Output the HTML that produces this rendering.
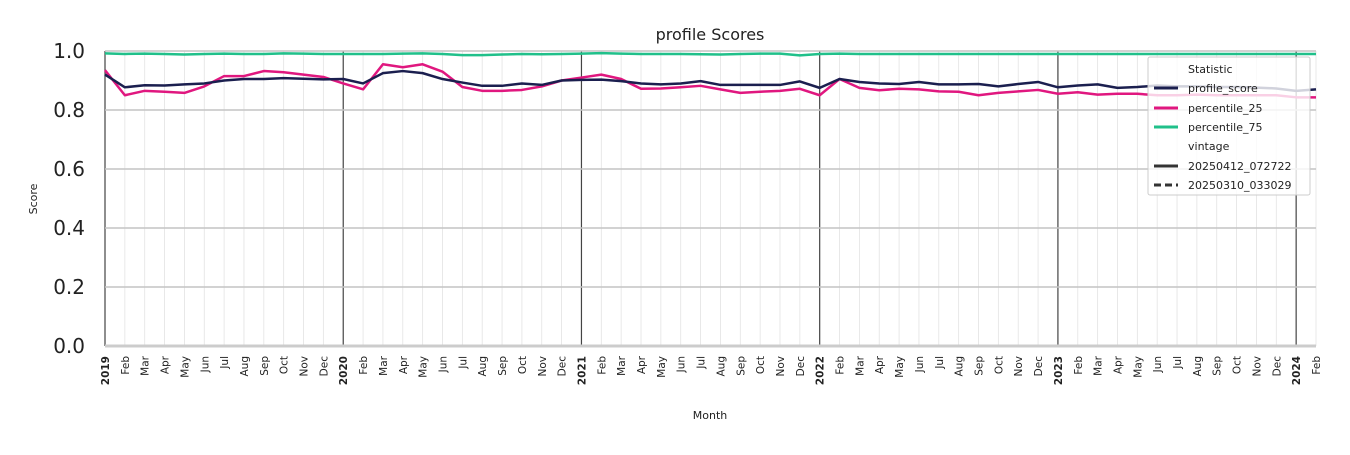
<!DOCTYPE html>
<html><head><meta charset="utf-8"><style>
body{margin:0;background:#fff;font-family:"Liberation Sans","DejaVu Sans",sans-serif}
</style></head><body>
<svg id="chart" width="1350" height="450" xmlns="http://www.w3.org/2000/svg" font-family="DejaVu Sans, Liberation Sans, sans-serif">
<rect width="1350" height="450" fill="#fff"/>
<text x="710" y="40" text-anchor="middle" font-size="16" fill="#222">profile Scores</text>
<g id="grid"></g><g id="series"></g><g id="axes"></g>
<text x="710" y="419" text-anchor="middle" font-size="11" fill="#222">Month</text>
<text transform="translate(37,199) rotate(-90)" text-anchor="middle" font-size="11" fill="#222">Score</text>
<g>
<rect x="1148" y="57" width="162" height="138" fill="#fff" fill-opacity="0.8" stroke="#ccc" rx="2"/>
<text x="1188" y="73" font-size="11" fill="#222">Statistic</text>
<line x1="1154" y1="88" x2="1178" y2="88" stroke="#1b1f4f" stroke-width="3"/><text x="1188" y="92" font-size="11" fill="#222">profile_score</text>
<line x1="1154" y1="108" x2="1178" y2="108" stroke="#e0177f" stroke-width="3"/><text x="1188" y="112" font-size="11" fill="#222">percentile_25</text>
<line x1="1154" y1="127" x2="1178" y2="127" stroke="#20c08a" stroke-width="3"/><text x="1188" y="131" font-size="11" fill="#222">percentile_75</text>
<text x="1188" y="150" font-size="11" fill="#222">vintage</text>
<line x1="1154" y1="166" x2="1178" y2="166" stroke="#333" stroke-width="3"/><text x="1188" y="170" font-size="11" fill="#222">20250412_072722</text>
<line x1="1154" y1="185" x2="1178" y2="185" stroke="#333" stroke-width="3" stroke-dasharray="7,4"/><text x="1188" y="189" font-size="11" fill="#222">20250310_033029</text>
</g>
</svg>
<script>
const monthNames=["Jan","Feb","Mar","Apr","May","Jun","Jul","Aug","Sep","Oct","Nov","Dec"];
const startYear=2019;
const yTicks=[0,0.2,0.4,0.6,0.8,1.0];
const profileScore=[0.92,0.877,0.884,0.883,0.887,0.89,0.9,0.905,0.905,0.908,0.906,0.904,
0.905,0.89,0.925,0.932,0.925,0.905,0.893,0.882,0.882,0.89,0.885,0.9,
0.902,0.903,0.898,0.89,0.887,0.89,0.898,0.885,0.885,0.885,0.885,0.897,
0.875,0.905,0.895,0.89,0.888,0.895,0.887,0.887,0.888,0.88,0.888,0.895,
0.877,0.883,0.887,0.875,0.878,0.883,0.88,0.88,0.878,0.878,0.876,0.873,
0.865,0.87];
const percentile25=[0.935,0.85,0.865,0.862,0.858,0.88,0.915,0.915,0.932,0.928,0.92,0.912,
0.89,0.87,0.955,0.945,0.955,0.93,0.878,0.865,0.865,0.868,0.88,0.9,
0.91,0.92,0.905,0.872,0.873,0.877,0.882,0.87,0.858,0.862,0.865,0.872,
0.85,0.905,0.875,0.867,0.872,0.87,0.863,0.862,0.85,0.858,0.863,0.868,
0.855,0.86,0.852,0.855,0.855,0.85,0.85,0.852,0.85,0.85,0.85,0.85,
0.843,0.843];
const percentile75=[0.992,0.99,0.991,0.99,0.988,0.99,0.991,0.99,0.99,0.992,0.991,0.99,
0.99,0.99,0.99,0.991,0.992,0.99,0.986,0.986,0.988,0.99,0.989,0.99,
0.991,0.993,0.991,0.99,0.99,0.99,0.989,0.988,0.99,0.991,0.991,0.985,
0.99,0.991,0.99,0.99,0.99,0.99,0.99,0.99,0.99,0.99,0.99,0.99,
0.99,0.99,0.99,0.99,0.99,0.99,0.99,0.99,0.99,0.99,0.99,0.99,
0.99,0.99];
const NS="http://www.w3.org/2000/svg";
const x0=105,x1=1316,yTop=51,yBot=346,n=profileScore.length;
const xs=i=>x0+(x1-x0)*i/(n-1);
const ys=v=>yBot-(yBot-yTop)*v;
function mk(tag,attrs,parent){const e=document.createElementNS(NS,tag);for(const k in attrs)e.setAttribute(k,attrs[k]);parent.appendChild(e);return e;}
const grid=document.getElementById('grid'),axes=document.getElementById('axes'),ser=document.getElementById('series');
for(let i=0;i<n;i++){
  const yr=i%12===0;
  const l=mk('line',{x1:xs(i),x2:xs(i),y1:yTop,y2:yBot,stroke:yr?'#444':'#e3e3e3','stroke-width':yr?1.2:0.8},grid);
  
  
  const lab=yr?String(startYear+i/12):monthNames[i%12];
  const t=mk('text',{transform:`translate(${xs(i)+4},${356}) rotate(-90)`,'text-anchor':'end','font-size':'10.5','fill':'#222','font-weight':yr?'bold':'normal'},axes);
  t.textContent=lab;
  
  
}
yTicks.forEach(v=>{
  const l=mk('line',{x1:x0,x2:x1,y1:ys(v),y2:ys(v),stroke:v===0?'#ccc':'#c4c4c4','stroke-width':v===0?3:1.5},grid);
  
  
  const t=mk('text',{x:x0-20,y:ys(v)+7,'text-anchor':'end','font-size':'20','fill':'#222'},axes);
  t.textContent=v.toFixed(1);
  
  
});
[[percentile75,'#20c08a','percentile-75-line'],[percentile25,'#e0177f','percentile-25-line'],[profileScore,'#1b1f4f','profile-score-line']].forEach(([d,c,nm])=>{
  const p=mk('polyline',{points:d.map((v,i)=>xs(i)+','+ys(v)).join(' '),fill:'none',stroke:c,'stroke-width':2.5,'stroke-linejoin':'round'},ser);
  
  
});
</script>
</body></html>
